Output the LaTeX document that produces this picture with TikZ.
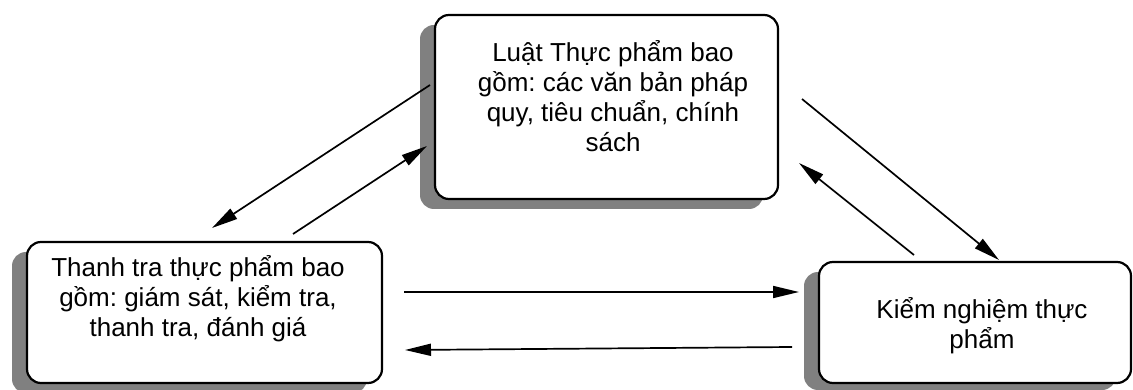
\documentclass[tikz,border=0pt]{standalone}
\usepackage{fontspec}
\setmainfont{Liberation Sans}
\usetikzlibrary{arrows.meta}
\frenchspacing
\begin{document}
\begin{tikzpicture}[x=1pt,y=-1pt,
  box/.style={draw=black, line width=2.2pt, fill=white, rounded corners=14pt, rectangle, inner sep=0pt},
  shadowbox/.style={fill=black!50, rounded corners=14pt},
  lbl/.style={font=\fontsize{26}{30}\selectfont\frenchspacing, align=center, inner sep=0pt, anchor=base},
  arr/.style={line width=1.7pt, -{Triangle[length=26pt,width=12pt]}}
]
\useasboundingbox (0,0) rectangle (1133,390);
% shadows
\fill[shadowbox] (420,25) rectangle (763,209);
\fill[shadowbox] (12,252) rectangle (367,393);
\fill[shadowbox] (804,272) rectangle (1116,390);
% boxes
\node[box, minimum width=343pt, minimum height=184pt] (law) at (606.5,107) {};
\node[box, minimum width=355pt, minimum height=141pt] (insp) at (204.5,312.5) {};
\node[box, minimum width=312pt, minimum height=121pt] (test) at (975,322.5) {};
% texts
\node[lbl] (lawt) at (613,152) {Luật Thực phẩm bao\\gồm: các văn bản pháp\\quy, tiêu chuẩn, chính\\sách};
\node[lbl] (inspt) at (198,336) {Thanh tra thực phẩm bao\\gồm: giám sát, kiểm tra,\\thanh tra, đánh giá};
\node[lbl] (testt) at (982,348) {Kiểm nghiệm thực\\phẩm};
% connector end points
\coordinate (a1s) at (430,85);   \coordinate (a1e) at (212,228);
\coordinate (a2s) at (293,234);  \coordinate (a2e) at (427,146);
\coordinate (a3s) at (802,99);   \coordinate (a3e) at (999,260);
\coordinate (a4s) at (914,255);  \coordinate (a4e) at (799,163);
\coordinate (a5s) at (404,292);  \coordinate (a5e) at (799,292);
\coordinate (a6s) at (792,347);  \coordinate (a6e) at (405,350);
\draw[arr] (a1s) -- (a1e);
\draw[arr] (a2s) -- (a2e);
\draw[arr] (a3s) -- (a3e);
\draw[arr] (a4s) -- (a4e);
\draw[arr] (a5s) -- (a5e);
\draw[arr] (a6s) -- (a6e);
\end{tikzpicture}
\end{document}
